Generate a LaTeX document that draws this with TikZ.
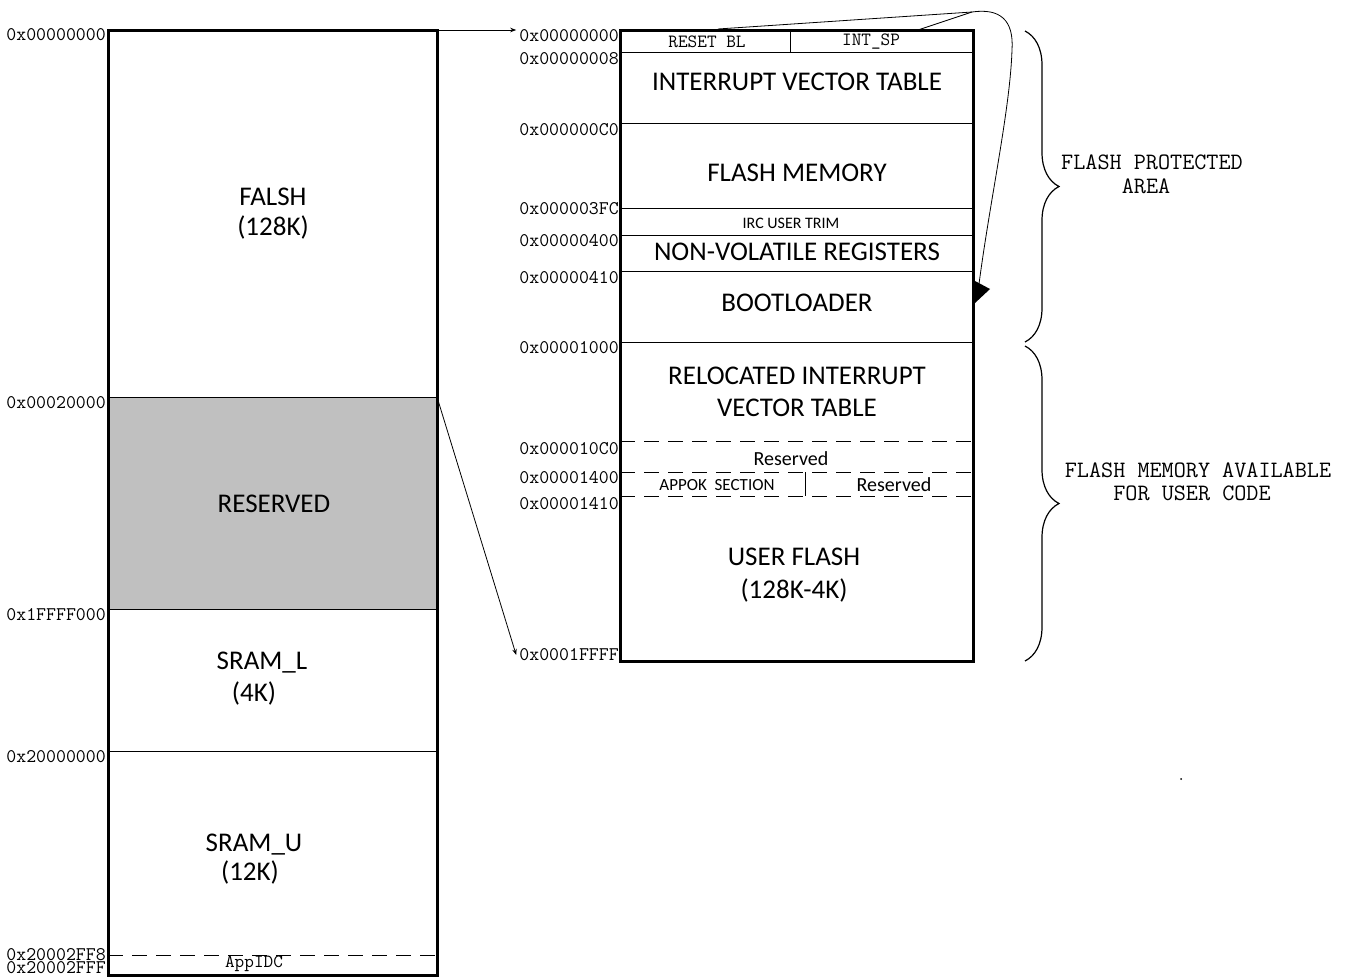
\documentclass[tikz,border=0pt]{standalone}
\usepackage{fontspec}
\setsansfont{Carlito}
\usetikzlibrary{arrows.meta,decorations.pathreplacing}
\begin{document}
\begin{tikzpicture}[x=1pt,y=-1pt,
  addr/.style={font=\ttfamily\fontsize{19.3}{19}\selectfont, anchor=east, inner sep=0pt},
  big/.style={font=\sffamily\fontsize{27}{30}\selectfont, inner sep=0pt},
  med/.style={font=\sffamily\fontsize{20}{24}\selectfont, inner sep=0pt},
  small/.style={font=\sffamily\fontsize{17}{18}\selectfont, inner sep=0pt},
  tiny/.style={font=\sffamily\fontsize{16}{18}\selectfont, inner sep=0pt},
  mono/.style={font=\ttfamily\fontsize{18.7}{19}\selectfont, inner sep=0pt},
  note/.style={font=\ttfamily\fontsize{23.5}{24}\selectfont, inner sep=0pt},
  thick box/.style={line width=3pt},
  thin line/.style={line width=1pt},
  dline/.style={line width=1pt, dash pattern=on 15pt off 9pt},
  conn/.style={line width=0.8pt, -{Stealth[length=6pt,width=4.5pt]}}
]
\useasboundingbox (0,0) rectangle (1346,977);
% ---------------- left map ----------------
\fill[fill={rgb,255:red,192;green,192;blue,192}] (108,397) rectangle (437,609);
\draw[thin line] (108,397) -- (437,397);
\draw[thin line] (108,609) -- (437,609);
\draw[thin line] (108,751) -- (437,751);
\draw[dline] (108,955) -- (437,955);
\draw[thick box] (108,30) rectangle (437,975);
\coordinate (Ltop) at (437,30);
\coordinate (Lres) at (437,397);

\node[big] (falsh) at (273,197) {FALSH};
\node[big] (falshk) at (273,227) {(128K)};
\node[big] (resv) at (274,504) {RESERVED};
\node[big] (sraml) at (262,663) {SRAM\_L};
\node[big] (sramlk) at (254,693) {(4K)};
\node[big] (sramu) at (254,845) {SRAM\_U};
\node[big] (sramuk) at (250,872) {(12K)};
\node[mono] (appidc) at (254,964) {AppIDC};

\node[addr] (la0) at (106,35) {0x00000000};
\node[addr] (la1) at (106,403) {0x00020000};
\node[addr] (la2) at (106,615) {0x1FFFF000};
\node[addr] (la3) at (106,757) {0x20000000};
\node[addr] (la4) at (106,955) {0x20002FF8};
\node[addr] (la5) at (106,968) {0x20002FFF};

% ---------------- right map ----------------
\draw[thin line] (620,52) -- (973,52);
\draw[thin line] (790,30) -- (790,52);
\draw[thin line] (620,123) -- (973,123);
\draw[thin line] (620,208) -- (973,208);
\draw[thin line] (620,235) -- (973,235);
\draw[thin line] (620,271) -- (973,271);
\draw[thin line] (620,342) -- (973,342);
\draw[dline] (620,441) -- (973,441);
\draw[dline] (620,472) -- (973,472);
\draw[dline] (620,496) -- (973,496);
\draw[thin line] (805,472) -- (805,496);
\draw[thick box] (620,30) rectangle (973,661);

\node[mono] (rbl) at (707,42) {RESET BL};
\node[mono] (isp) at (871,42) {INT\_SP};
\node[big] (ivt) at (797,82) {INTERRUPT VECTOR TABLE};
\node[big] (fm) at (797,173) {FLASH MEMORY};
\node[tiny] (irc) at (791,223) {IRC USER TRIM};
\node[big] (nvr) at (797,252) {NON-VOLATILE REGISTERS};
\node[big] (bl) at (797,303) {BOOTLOADER};
\node[big] (rivt) at (797,376) {RELOCATED INTERRUPT};
\node[big] (rivt2) at (797,408) {VECTOR TABLE};
\node[med] (res1) at (791,459) {Reserved};
\node[small] (appok) at (717,485) {APPOK\ \ SECTION};
\node[med] (res2) at (894,485) {Reserved};
\node[big] (uf) at (794,557) {USER FLASH};
\node[big] (uf2) at (794,590) {(128K-4K)};

\node[addr] (ra0) at (619,36) {0x00000000};
\node[addr] (ra1) at (619,59) {0x00000008};
\node[addr] (ra2) at (619,130) {0x000000C0};
\node[addr] (ra3) at (619,209) {0x000003FC};
\node[addr] (ra4) at (619,241) {0x00000400};
\node[addr] (ra5) at (619,278) {0x00000410};
\node[addr] (ra6) at (619,348) {0x00001000};
\node[addr] (ra7) at (619,449) {0x000010C0};
\node[addr] (ra8) at (619,478) {0x00001400};
\node[addr] (ra9) at (619,504) {0x00001410};
\node[addr] (ra10) at (619,655) {0x0001FFFF};

% ---------------- connectors ----------------
\draw[conn] (Ltop) -- ([xshift=-3pt]ra0.west |- Ltop);
\draw[conn] (Lres) -- ([xshift=-3pt]ra10.west);

\coordinate (c1) at (718,29);
\coordinate (c2) at (918,30);
\coordinate (cj) at (972,12);
\coordinate (ce) at (979,284);
\draw[line width=0.8pt] (c1) -- (cj);
\draw[line width=0.8pt] (c2) -- (cj);
\draw[line width=0.8pt] (cj) .. controls (1000,8) and (1014,20) .. (1012,50)
   .. controls (1010,110) and (990,200) .. (ce);
\fill (975,281) -- (990,289) -- (975,303) -- cycle;

% ---------------- braces ----------------
\draw[line width=1.2pt, decorate, decoration={brace, amplitude=34pt, raise=0pt}]
  (1025,31) -- (1025,342);
\draw[line width=1.2pt, decorate, decoration={brace, amplitude=34pt, raise=0pt}]
  (1025,346) -- (1025,661);
\node[note] (fpa) at (1152,162) {FLASH PROTECTED};
\node[note] (fpa2) at (1146,186) {AREA};
\node[note] (fma) at (1198,470) {FLASH MEMORY AVAILABLE};
\node[note] (fma2) at (1192,493) {FOR USER CODE};

\fill (1181,779) circle (1pt);
\end{tikzpicture}
\end{document}
